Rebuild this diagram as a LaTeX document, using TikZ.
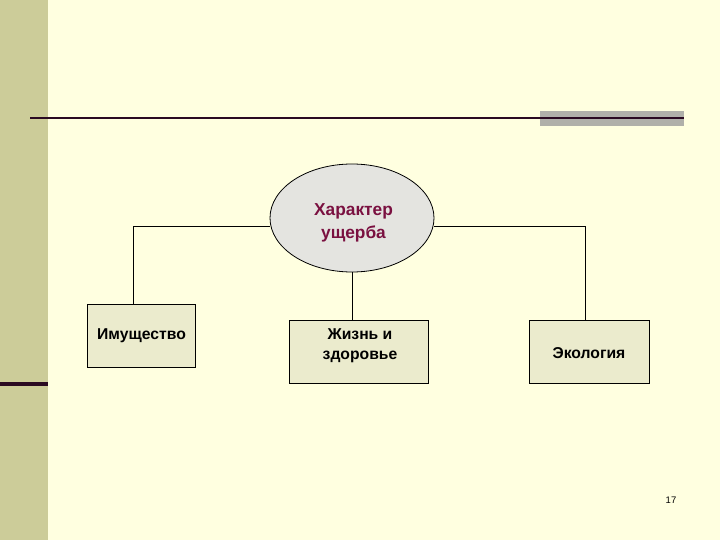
\documentclass[tikz,border=0pt]{standalone}
\usepackage{fontspec}
\setmainfont{Liberation Sans}
\usetikzlibrary{shapes.geometric}
\definecolor{bg}{HTML}{FFFFE0}
\definecolor{band}{HTML}{CCCC99}
\definecolor{darkline}{HTML}{2A0A22}
\definecolor{graybar}{HTML}{B0B0AA}
\definecolor{ellfill}{HTML}{E4E4E0}
\definecolor{boxfill}{HTML}{EBEBCD}
\definecolor{titlecol}{HTML}{7A1040}
\tikzset{
  leaf/.style={draw=black, fill=boxfill, line width=0.8pt, inner sep=0pt, minimum height=63},
  leaftext/.style={align=center, inner sep=0pt, font=\fontsize{15.7}{20}\selectfont\bfseries},
  conn/.style={draw=black, line width=0.8pt},
}
\begin{document}
\begin{tikzpicture}[x=1pt,y=-1pt]
\useasboundingbox (0,0) rectangle (720,540);
\fill[bg] (0,0) rectangle (720,540);
\fill[band] (0,0) rectangle (48,540);
\fill[darkline] (0,382) rectangle (48,386);
\fill[graybar] (540,111) rectangle (684,126);
\draw[darkline, line width=2.2pt] (30,118) -- (684,118);
\node[ellipse, draw=black, fill=ellfill, line width=0.8pt, minimum width=164, minimum height=108, inner sep=0pt] (root) at (352,218) {};
\node[align=center, inner sep=0pt, text=titlecol, font=\fontsize{17.3}{23}\selectfont\bfseries] (roottext) at (353.5,222.5) {Характер\\ущерба};
\node[leaf, minimum width=108] (a) at (141,335.5) {};
\node[leaf, minimum width=139] (b) at (358.5,351.5) {};
\node[leaf, minimum width=120] (c) at (589,351.5) {};
\node[leaftext] (at) at (141.5,335.5) {Имущество};
\node[leaftext] (bt) at (360,345.5) {Жизнь и\\здоровье};
\node[leaftext] (ct) at (589,353.5) {Экология};
\coordinate (lc) at (133,226);
\coordinate (rc) at (585,226);
\draw[conn] (root.west |- lc) -- (lc) -- (lc |- a.north);
\draw[conn] (root.east |- rc) -- (rc) -- (rc |- c.north);
\draw[conn] (root.south) -- (root.south |- b.north);
\node[font=\fontsize{9.5}{10}\selectfont, anchor=center] (pg) at (671,500) {17};
\end{tikzpicture}
\end{document}
